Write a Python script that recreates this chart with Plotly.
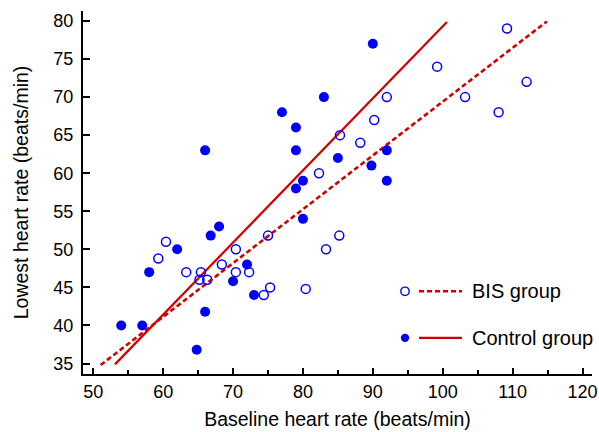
import plotly.graph_objects as go
import numpy as np

# ---- data ----
bis_x = [59.3, 60.4, 63.3, 65.4, 65.2, 66.3, 68.4, 70.4, 70.4, 72.3, 74.4, 75.3, 75.0,
         80.4, 83.3, 85.2, 82.3, 85.3, 88.2, 90.2, 92.0, 99.2, 103.2, 108.0, 109.2, 112.0]
bis_y = [48.8, 51.0, 47.0, 47.0, 46.0, 46.0, 48.0, 50.0, 47.0, 47.0, 44.0, 45.0, 51.8,
         44.8, 50.0, 51.8, 60.0, 65.0, 64.0, 67.0, 70.0, 74.0, 70.0, 68.0, 79.0, 72.0]
ctrl_x = [54.0, 57.0, 64.8, 66.0, 58.0, 62.0, 66.8, 68.0, 70.0, 72.0, 73.0, 66.0, 77.0,
          83.0, 79.0, 79.0, 85.0, 80.0, 79.0, 80.0, 90.0, 92.0, 89.8, 92.0]
ctrl_y = [40.0, 40.0, 36.8, 41.8, 47.0, 50.0, 51.8, 53.0, 45.8, 48.0, 44.0, 63.0, 68.0,
          70.0, 66.0, 63.0, 62.0, 59.0, 58.0, 54.0, 77.0, 63.0, 61.0, 59.0]

# regression lines (slope, intercept, x-extent)
bis_fit_slope, bis_fit_intercept, bis_fit_xrange = 0.707, -1.3, [51.06, 114.9]
ctrl_fit_slope, ctrl_fit_intercept, ctrl_fit_xrange = 0.947, -15.4, [53.1, 100.6]

series_names = ["BIS group", "Control group"]
x_ticks = [50, 60, 70, 80, 90, 100, 110, 120]
y_ticks = [35, 40, 45, 50, 55, 60, 65, 70, 75, 80]

BLUE = "#0000ff"
RED = "#d10000"
FONT = "Liberation Sans, Arial, sans-serif"

fig = go.Figure()

bfx = np.array(bis_fit_xrange)
cfx = np.array(ctrl_fit_xrange)
fig.add_trace(go.Scatter(x=bfx, y=bis_fit_slope * bfx + bis_fit_intercept, mode="lines",
                         line=dict(color=RED, width=2.6, dash="5px,3px"), showlegend=False,
                         hoverinfo="skip"))
fig.add_trace(go.Scatter(x=cfx, y=ctrl_fit_slope * cfx + ctrl_fit_intercept, mode="lines",
                         line=dict(color=RED, width=2.2), showlegend=False, hoverinfo="skip"))
fig.add_trace(go.Scatter(x=bis_x, y=bis_y, mode="markers", name=series_names[0],
                         marker=dict(symbol="circle-open", size=9, color=BLUE,
                                     line=dict(width=1.5, color=BLUE)),
                         showlegend=False))
fig.add_trace(go.Scatter(x=ctrl_x, y=ctrl_y, mode="markers", name=series_names[1],
                         marker=dict(symbol="circle", size=10, color=BLUE, line=dict(width=0)),
                         showlegend=False))

W, H = 599, 432
# plot-area bounds in screen pixels
L, R, T, B = 83, 592, 11, 374.5


def px(x):
    return (x - L) / (R - L)


def py(y):
    return (B - y) / (B - T)


# custom legend: marker, line sample, label
legend_rows = [(291.7, "5px,3px", 2.4, False), (338.3, "solid", 2.4, True)]
shapes = []
annotations = []
for (row_y, dash, lw, filled), name in zip(legend_rows, series_names):
    shapes.append(dict(type="circle", xref="paper", yref="paper",
                       xsizemode="pixel", ysizemode="pixel",
                       xanchor=px(405), yanchor=py(row_y),
                       x0=-4.2, x1=4.2, y0=-4.2, y1=4.2,
                       line=dict(color=BLUE, width=1.4 if not filled else 0),
                       fillcolor=BLUE if filled else "rgba(0,0,0,0)"))
    shapes.append(dict(type="line", xref="paper", yref="paper",
                       x0=px(419), x1=px(462), y0=py(row_y), y1=py(row_y),
                       line=dict(color=RED, width=lw, dash=dash)))
    annotations.append(dict(xref="paper", yref="paper", x=px(470), y=py(row_y),
                            xanchor="left", yanchor="middle", showarrow=False,
                            text=name, font=dict(family=FONT, size=20, color="#000")))

fig.update_layout(
    width=W, height=H,
    margin=dict(l=L, r=W - R, t=T, b=H - B, pad=0),
    paper_bgcolor="white", plot_bgcolor="white",
    font=dict(family=FONT, color="#000"),
    shapes=shapes, annotations=annotations,
    showlegend=False,
)
fig.update_xaxes(
    range=[48.53, 121.36], tickvals=x_ticks, ticktext=[str(v) for v in x_ticks],
    ticks="inside", ticklen=6, tickwidth=1.8, tickcolor="#000",
    minor=dict(tickvals=[55, 65, 75, 85, 95, 105, 115], ticks="inside", ticklen=4,
               tickwidth=1.8, tickcolor="#000"),
    showline=True, linecolor="#000", linewidth=2, mirror=False,
    showgrid=False, zeroline=False, automargin=False,
    tickfont=dict(family=FONT, size=18, color="#000"), ticklabelstandoff=0,
    title=dict(text="Baseline heart rate (beats/min)", standoff=12,
               font=dict(family=FONT, size=19.5, color="#000")),
)
fig.update_yaxes(
    range=[33.62, 81.31], tickvals=y_ticks, ticktext=[str(v) for v in y_ticks],
    ticks="inside", ticklen=7, tickwidth=1.8, tickcolor="#000",
    showline=True, linecolor="#000", linewidth=2, mirror=False,
    showgrid=False, zeroline=False, automargin=False,
    tickfont=dict(family=FONT, size=18, color="#000"), ticklabelstandoff=4,
    title=dict(text="Lowest heart rate (beats/min)", standoff=20,
               font=dict(family=FONT, size=19.5, color="#000")),
)

# remove the default 8px page margin so the figure fills the window exactly
fig.write_html("out.html",
               config={"displayModeBar": False},
               post_script="document.body.style.margin='0';"
                           "document.body.style.overflow='hidden';")
